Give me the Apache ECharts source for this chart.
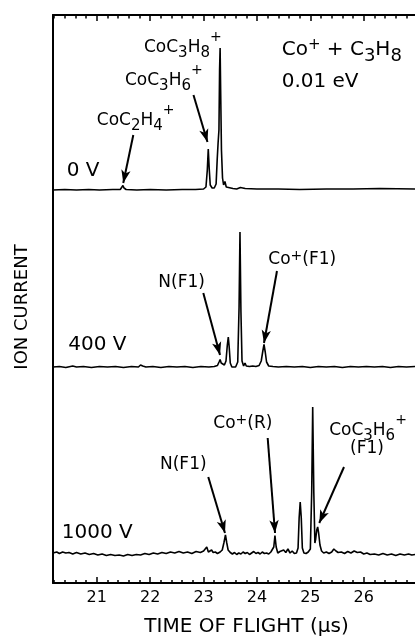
<!DOCTYPE html>
<html>
<head>
<meta charset="utf-8">
<script src="https://cdn.jsdelivr.net/npm/echarts@6/dist/echarts.min.js"></script>
<style>
html, body { margin: 0; padding: 0; background: #fff; }
#main { width: 415px; height: 638px; }
</style>
</head>
<body>
<div id="main"></div>
<script>
// ion current above each trace's baseline, [time of flight (us), signal]
var trace0V = [
  [20.18, 0], [20.40, 0.5], [20.62, 0], [20.85, 0.5], [21.05, 0], [21.30, 0.5], [21.44, 0.5],
  [21.47, 2.5], [21.49, 4.5], [21.51, 2], [21.55, 0.5], [21.75, 0], [22.0, 0.5], [22.3, 0],
  [22.6, 0.5], [22.85, 0.5], [23.0, 1], [23.045, 3], [23.07, 20], [23.088, 41], [23.105, 22],
  [23.125, 5], [23.16, 2], [23.2, 2], [23.235, 6], [23.255, 30], [23.272, 47], [23.288, 60],
  [23.30, 120], [23.31, 142], [23.32, 100], [23.335, 40], [23.355, 12], [23.375, 5], [23.40, 8.5],
  [23.425, 3], [23.46, 1], [23.55, 1.5], [23.62, 1], [23.69, 2.5], [23.78, 1.5], [24.0, 1],
  [24.4, 1], [24.8, 0.5], [25.3, 1], [25.8, 1], [26.3, 1.5], [26.96, 1]
];
var trace400V = [
  [20.18, 0], [20.3, 0.5], [20.42, -0.5], [20.55, 1], [20.62, 0], [20.75, 0.5], [20.9, -0.5],
  [21.05, 0.5], [21.2, 0], [21.35, 0.5], [21.5, -0.5], [21.65, 0.5], [21.78, 0], [21.82, 2],
  [21.84, 4], [21.86, 1], [21.92, 0], [22.05, 0.5], [22.2, -0.5], [22.35, 0.5], [22.5, 0],
  [22.65, 0.5], [22.8, -0.5], [22.95, 0.5], [23.1, 0], [23.2, 0.5], [23.26, 1.5], [23.29, 5],
  [23.31, 7.5], [23.33, 4], [23.36, 5], [23.39, 2], [23.42, 6], [23.445, 22], [23.463, 30],
  [23.48, 20], [23.50, 4], [23.53, 0], [23.56, -1], [23.60, 0], [23.64, 5], [23.665, 60],
  [23.682, 135], [23.70, 55], [23.72, 6], [23.75, 1], [23.776, 4], [23.80, 1], [23.83, 3],
  [23.86, 0.5], [23.92, 1], [23.98, 0.5], [24.04, 1.5], [24.08, 6], [24.11, 16], [24.132, 22.5],
  [24.155, 15], [24.18, 5], [24.22, 1], [24.3, 0.5], [24.4, 0], [24.55, 0.5], [24.7, 0],
  [24.85, 0.5], [25.0, -0.5], [25.15, 0.5], [25.3, 0], [25.45, 0.5], [25.6, -0.5], [25.75, 0.5],
  [25.9, 0], [26.05, 0.5], [26.2, 0], [26.35, 0.5], [26.5, -0.5], [26.65, 0.5], [26.8, 0], [26.96, 0.5]
];
var trace1000V = [
  [20.18, 0], [20.25, 1], [20.3, -0.5], [20.36, 1], [20.42, 0], [20.48, 0.5], [20.55, -1],
  [20.62, 0.5], [20.7, -1], [20.78, 0], [20.86, -1.5], [20.94, -0.5], [21.02, -2], [21.1, -1],
  [21.18, -2.5], [21.26, -1.5], [21.34, -2.5], [21.42, -2], [21.5, -3], [21.58, -1.5], [21.66, -2.5],
  [21.74, -1.5], [21.82, -2], [21.9, -0.5], [21.98, -1.5], [22.06, 0], [22.14, -1], [22.22, 0.5],
  [22.3, -0.5], [22.38, 1], [22.46, 0], [22.54, 1.5], [22.62, 0], [22.7, 1], [22.78, -0.5],
  [22.86, 1.5], [22.94, 0.5], [23.0, 2], [23.03, 1], [23.06, 6], [23.09, 1], [23.12, 2],
  [23.15, 3], [23.18, 0.5], [23.22, 1], [23.26, -0.5], [23.31, 1], [23.35, 3], [23.38, 10],
  [23.41, 18], [23.435, 10], [23.46, 3], [23.5, 0.5], [23.54, -1], [23.58, 0.5], [23.62, -1.5],
  [23.66, 0], [23.7, -1], [23.74, 1], [23.78, -0.5], [23.82, 0.5], [23.86, -1.5], [23.9, 0],
  [23.94, 1.5], [23.98, -0.5], [24.02, 0.5], [24.06, -1], [24.1, 1], [24.14, -0.5], [24.18, 0],
  [24.22, -1], [24.26, 1], [24.29, 0], [24.315, 6], [24.337, 17.5], [24.36, 6], [24.39, 0],
  [24.43, 1.5], [24.46, -0.5], [24.5, 3], [24.54, 0.5], [24.58, 4], [24.62, 0], [24.66, 2],
  [24.7, -0.5], [24.74, 0], [24.77, 5], [24.79, 35], [24.81, 51], [24.83, 35], [24.85, 5],
  [24.88, 0], [24.92, -0.5], [24.96, 1], [25.0, 4], [25.025, 60], [25.044, 146], [25.065, 60],
  [25.085, 10], [25.1, 14], [25.12, 23], [25.137, 26], [25.155, 20], [25.18, 8], [25.21, 2],
  [25.25, 0], [25.3, 1], [25.35, -0.5], [25.4, 1], [25.44, 4], [25.46, 5], [25.48, 2],
  [25.52, 0.5], [25.58, 1], [25.64, -0.5], [25.7, 1.5], [25.76, 0], [25.82, 2], [25.88, 0.5],
  [25.94, 1], [26.0, -1], [26.06, 0], [26.12, -1.5], [26.2, -1], [26.28, -2], [26.36, -0.5],
  [26.44, -2], [26.52, -1], [26.6, -2.5], [26.68, -1], [26.76, -2], [26.84, -1], [26.9, -2], [26.96, -1.5]
];

var majorTicks = [21, 22, 23, 24, 25, 26];
var minorTicks = [20.2, 20.4, 20.6, 20.8, 21.2, 21.4, 21.6, 21.8, 22.2, 22.4, 22.6, 22.8,
  23.2, 23.4, 23.6, 23.8, 24.2, 24.4, 24.6, 24.8, 25.2, 25.4, 25.6, 25.8, 26.2, 26.4, 26.6, 26.8];

// where each trace sits on the stacked plot
var baselines = { v0: 393, v400: 216, v1000: 30 };

// annotation text: [time, height, text, align]
var peakLabels = [
  [21.884, 535, '{a|CoC}{s|3}{a|H}{s|8}{p|+}', 'left'],
  [21.528, 502, '{a|CoC}{s|3}{a|H}{s|6}{p|+}', 'left'],
  [21.0, 462, '{a|CoC}{s|2}{a|H}{s|4}{p|+}', 'left'],
  [24.463, 533, '{b|Co}{bp|+}{b| + C}{bs|3}{b|H}{bs|8}', 'left'],
  [24.463, 501, '{b|0.01 eV}', 'left'],
  [20.436, 412, '{v|0 V}', 'left'],
  [22.152, 300.5, '{a|N(F1)}', 'left'],
  [24.212, 323, '{a|Co}{q|+}{a|(F1)}', 'left'],
  [20.466, 238, '{v|400 V}', 'left'],
  [20.343, 50, '{v|1000 V}', 'left'],
  [22.184, 118, '{a|N(F1)}', 'left'],
  [23.182, 159, '{a|Co}{q|+}{a|(R)}', 'left'],
  [26.08, 152, '{a|CoC}{s|3}{a|H}{s|6}{p|+}', 'center'],
  [26.06, 134, '{a|(F1)}', 'center']
];

// arrows from label to peak: [[t, y] start, [t, y] tip]
var peakArrows = [
  [[22.811, 488], [23.073, 441]],
  [[21.684, 448], [21.496, 400]],
  [[22.995, 290], [23.308, 228]],
  [[24.375, 312], [24.132, 240]],
  [[23.088, 106], [23.401, 50]],
  [[24.201, 145], [24.338, 50]],
  [[25.630, 116], [25.167, 60]]
];

var FONT = 'DejaVu Sans';
var INK = '#000';

function shift(trace, base) {
  return trace.map(function (p) { return [p[0], p[1] + base]; });
}

function traceSeries(name, data) {
  return {
    name: name,
    type: 'line',
    data: data,
    showSymbol: false,
    symbol: 'none',
    lineStyle: { color: INK, width: 1.6 },
    silent: true
  };
}

var rich = {
  a: { fontSize: 17, fontFamily: FONT, color: INK },
  s: { fontSize: 15, fontFamily: FONT, color: INK, padding: [10, 0, 0, 0] },
  p: { fontSize: 14, fontFamily: FONT, color: INK, padding: [0, 0, 22, 0] },
  q: { fontSize: 14, fontFamily: FONT, color: INK, padding: [0, 0, 8, 0] },
  b: { fontSize: 20, fontFamily: FONT, color: INK },
  bs: { fontSize: 18, fontFamily: FONT, color: INK, padding: [12, 0, 0, 0] },
  bp: { fontSize: 15, fontFamily: FONT, color: INK, padding: [0, 0, 10, 0] },
  v: { fontSize: 20, fontFamily: FONT, color: INK }
};

function xAxisDef(pos, ticks, len, showLine, labels) {
  return {
    type: 'value',
    position: pos,
    min: 20.18,
    max: 26.96,
    axisLine: { show: showLine, onZero: false, lineStyle: { color: INK, width: 2 } },
    axisTick: { show: true, inside: true, length: len, customValues: ticks,
      lineStyle: { color: INK, width: 1.5 } },
    axisLabel: labels ? { show: true, customValues: ticks, margin: 7, fontSize: 16,
      fontFamily: FONT, color: INK } : { show: false },
    splitLine: { show: false }
  };
}

var chart = echarts.init(document.getElementById('main'));

var xBottom = xAxisDef('bottom', majorTicks, 6, true, true);
xBottom.name = 'TIME OF FLIGHT (\u03bcs)';
xBottom.nameLocation = 'middle';
xBottom.nameGap = 34;
xBottom.nameTextStyle = { fontSize: 20, fontFamily: FONT, color: INK, padding: [0, 0, 0, 25] };

chart.setOption({
  animation: false,
  backgroundColor: '#fff',
  grid: { left: 53, right: 0, top: 15, bottom: 55, containLabel: false, outerBoundsMode: 'none' },
  xAxis: [
    xBottom,
    xAxisDef('bottom', minorTicks, 3, false, false),
    xAxisDef('top', majorTicks, 6, true, false),
    xAxisDef('top', minorTicks, 3.5, false, false)
  ],
  yAxis: {
    type: 'value',
    min: 0,
    max: 568,
    axisLine: { show: true, onZero: false, lineStyle: { color: INK, width: 2 } },
    axisTick: { show: false },
    axisLabel: { show: false },
    splitLine: { show: false },
    name: 'ION CURRENT',
    nameLocation: 'middle',
    nameRotate: 90,
    nameGap: 22,
    nameTextStyle: { fontSize: 18, fontFamily: FONT, color: INK, padding: [0, 16, 0, 0] }
  },
  series: [
    traceSeries('0 V', shift(trace0V, baselines.v0)),
    traceSeries('400 V', shift(trace400V, baselines.v400)),
    traceSeries('1000 V', shift(trace1000V, baselines.v1000)),
    {
      type: 'lines',
      coordinateSystem: 'cartesian2d',
      silent: true,
      symbol: ['none', 'arrow'],
      symbolSize: [0, [7, 13]],
      lineStyle: { color: INK, width: 2, opacity: 1 },
      data: peakArrows.map(function (a) { return { coords: a }; })
    },
    {
      type: 'scatter',
      silent: true,
      symbolSize: 0,
      itemStyle: { color: INK },
      data: peakLabels.map(function (l) {
        return {
          value: [l[0], l[1]],
          label: { show: true, position: 'inside', formatter: l[2], align: l[3],
            verticalAlign: 'middle', color: INK, opacity: 1, textBorderWidth: 0, rich: rich }
        };
      })
    }
  ]
});
</script>
</body>
</html>
